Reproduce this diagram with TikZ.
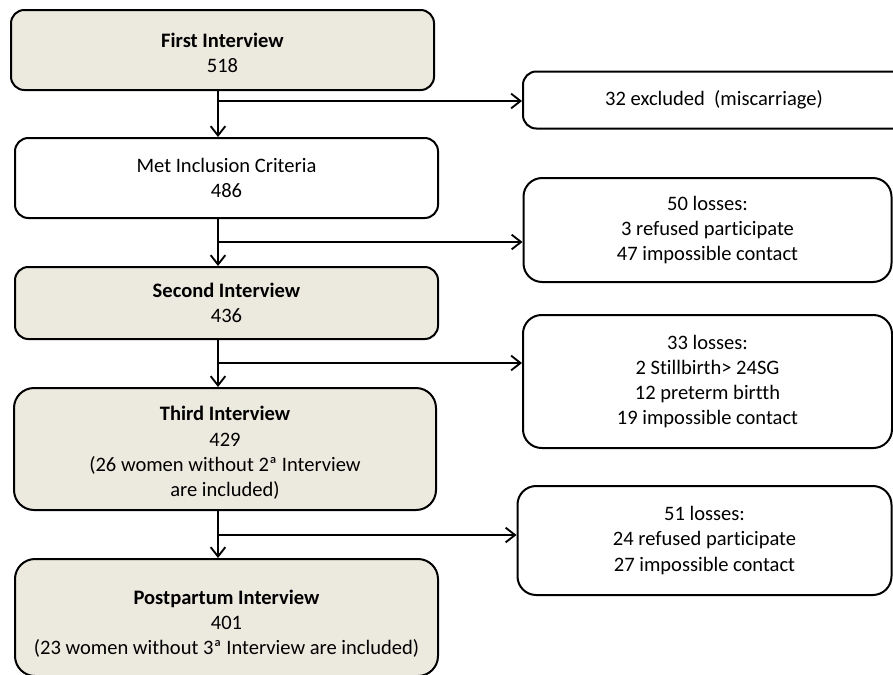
\documentclass[tikz,border=0pt]{standalone}
\usepackage{fontspec}
\setmainfont{Carlito}[Ligatures=NoCommon]
\usetikzlibrary{arrows.meta}
\definecolor{beige}{RGB}{236,233,223}
\tikzset{
  txt/.style={align=center, inner sep=0pt, font=\fontsize{15.4}{18.9}\selectfont},
  box/.style={txt, draw=black, line width=1.5pt, rounded corners=10pt},
  mainbox/.style={box, fill=beige},
  sidebox/.style={box, rounded corners=14pt, fill=white},
  arr/.style={line width=1.5pt, -{Straight Barb[length=7pt,width=11pt,line width=1.4pt]}},
}
\begin{document}
\begin{tikzpicture}[x=0.75pt,y=-0.75pt]
\useasboundingbox (0,0) rectangle (893,675);
% main column
\node[mainbox, minimum width=317.25pt, minimum height=60pt] (A) at (222.5,50) {};
\node[txt] (At) at ([yshift=-2.25pt]A.center) {\textbf{First Interview}\\518};
\node[box, fill=white, minimum width=317.25pt, minimum height=60pt] (B) at (226.5,178)
  {Met Inclusion Criteria\\486};
\node[mainbox, minimum width=317.25pt, minimum height=54pt] (C) at (226.5,303)
  {\textbf{Second Interview}\\436};
\node[mainbox, rounded corners=15pt, minimum width=316.5pt, minimum height=91.5pt] (D) at (225,449) {};
\node[txt] (Dt) at ([yshift=-3pt]D.center)
  {\textbf{Third Interview}\\429\\(26 women without 2ª Interview\\are included)};
\node[mainbox, rounded corners=15pt, minimum width=317.25pt, minimum height=87.75pt] (E) at (226.5,617.5) {};
\node[txt] (Et) at ([yshift=-4.5pt]E.center)
  {\textbf{Postpartum Interview}\\401\\(23 women without 3ª Interview are included)};
% side boxes
\node[sidebox, rounded corners=10pt, minimum width=300pt, minimum height=42.75pt] (R1) at (723,100)
  {\hspace*{-13.5pt}32 excluded\ \ (miscarriage)};
\node[sidebox, minimum width=276pt, minimum height=78pt] (R2) at (707.5,230)
  {50 losses:\\3 refused participate\\47 impossible contact};
\node[sidebox, minimum width=276.75pt, minimum height=99.75pt] (R3) at (707.5,381.5)
  {33 losses:\\2 Stillbirth> 24SG\\12 preterm birtth\\19 impossible contact};
\node[sidebox, minimum width=280.5pt, minimum height=81.75pt] (R4) at (704.5,540.5)
  {51 losses:\\24 refused participate\\27 impossible contact};
% trunk coordinates
\coordinate (t) at (218,0);
\coordinate (b1) at (218,101);
\coordinate (b2) at (218,242);
\coordinate (b3) at (218,363);
\coordinate (b4) at (218,535);
% vertical arrows
\draw[arr] (A.south -| t) -- (B.north -| t);
\draw[arr] (B.south -| t) -- (C.north -| t);
\draw[arr] (C.south -| t) -- (D.north -| t);
\draw[arr] (D.south -| t) -- (E.north -| t);
% branch arrows
\draw[arr] (b1) -- (b1 -| R1.west);
\draw[arr] (b2) -- (b2 -| R2.west);
\draw[arr] (b3) -- (b3 -| R3.west);
\draw[arr] (b4) -- (b4 -| R4.west);
\end{tikzpicture}
\end{document}
